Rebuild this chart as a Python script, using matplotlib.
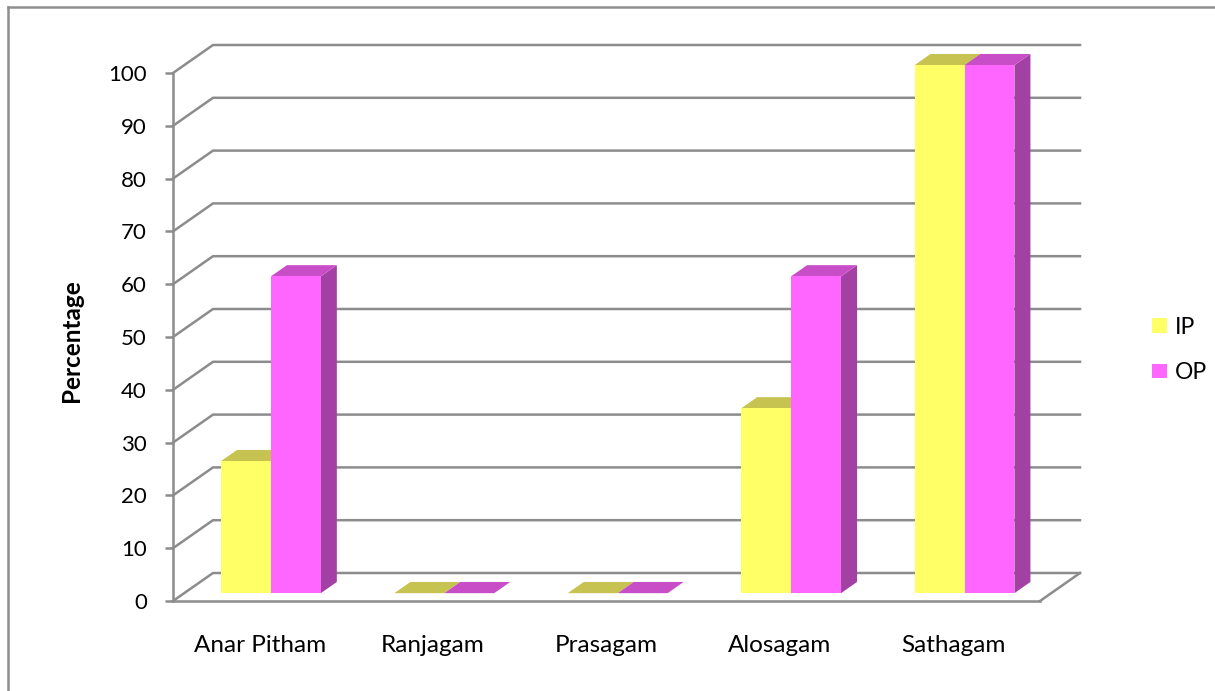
import matplotlib
matplotlib.use('Agg')
import matplotlib.pyplot as plt
from matplotlib.patches import Polygon, Patch
from matplotlib.lines import Line2D

# ---- data ----
categories = ['Anar Pitham', 'Ranjagam', 'Prasagam', 'Alosagam', 'Sathagam']
ip_values = [25, 0, 0, 35, 100]
op_values = [60, 0, 0, 60, 100]
series_names = ['IP', 'OP']

# ---- style ----
plt.rcParams.update({'font.family': ['Lato', 'DejaVu Sans'], 'font.size': 16})
GRID = '#8c8c8c'
GRID_LW = 1.8
COLORS = {
    'IP': {'front': '#ffff66', 'top': '#c6c350', 'side': '#b3b045'},
    'OP': {'front': '#ff66ff', 'top': '#c84ec8', 'side': '#a340a3'},
}

W, H, DPI = 1215, 691, 100
fig = plt.figure(figsize=(W / DPI, H / DPI), dpi=DPI)

# front plane of the 3-D box, in pixels
x0_px, x1_px = 173, 1040
y0_px, y1_px = 601, 73
ax = fig.add_axes([x0_px / W, 1 - y0_px / H, (x1_px - x0_px) / W, (y0_px - y1_px) / H])
n = len(categories)
ax.set_xlim(0, n)
ax.set_ylim(0, 100)

# oblique depth offset (px) converted to data units
DEPTH_PX = (40, 28)
DX = DEPTH_PX[0] / ((x1_px - x0_px) / n)
DY = DEPTH_PX[1] / ((y0_px - y1_px) / 100)


def proj(x, v, d):
    return (x + d * DX, v + d * DY)


# spines / ticks act as the front y-axis and front floor edge
for s in ['top', 'right']:
    ax.spines[s].set_visible(False)
for s in ['left', 'bottom']:
    ax.spines[s].set_color(GRID)
    ax.spines[s].set_linewidth(GRID_LW)
ax.set_yticks(range(0, 101, 10))
ax.tick_params(axis='y', direction='out', length=5.8, width=GRID_LW, color=GRID,
               pad=13, labelsize=16)
ax.set_xticks([i + 0.5 for i in range(n)])
ax.set_xticklabels(categories)
ax.tick_params(axis='x', length=0, pad=24.5, labelsize=17.5)
ax.patch.set_visible(False)

# back wall gridlines + diagonals on the side wall
for v in range(0, 101, 10):
    pts = [proj(0, v, 0), proj(0, v, 1), proj(n, v, 1)]
    ax.plot(*zip(*pts), color=GRID, lw=GRID_LW, clip_on=False, zorder=1,
            solid_joinstyle='miter')
# right edge of the floor
ax.plot(*zip(proj(n, 0, 0), proj(n, 0, 1)), color=GRID, lw=GRID_LW, clip_on=False, zorder=1)

# bars sit in the middle of the depth
D0, D1 = 0.28, 0.68
BW = 0.288


def bar(x, w, v, c, z):
    side = [proj(x + w, 0, D0), proj(x + w, 0, D1), proj(x + w, v, D1), proj(x + w, v, D0)]
    top = [proj(x, v, D0), proj(x + w, v, D0), proj(x + w, v, D1), proj(x, v, D1)]
    front = [proj(x, 0, D0), proj(x + w, 0, D0), proj(x + w, v, D0), proj(x, v, D0)]
    for pts, col in [(side, c['side']), (top, c['top']), (front, c['front'])]:
        ax.add_patch(Polygon(pts, closed=True, facecolor=col, edgecolor='none',
                             clip_on=False, zorder=z))


for i in range(n):
    bar(i + 0.5 - BW, BW, ip_values[i], COLORS['IP'], 3 + 2 * i)
    bar(i + 0.5, BW, op_values[i], COLORS['OP'], 4 + 2 * i)

ax.set_ylabel('Percentage', fontweight='bold', fontsize=17.5)
ax.yaxis.set_label_coords(-0.104, 0.494)

handles = [Patch(facecolor=COLORS[s]['front'], edgecolor='none') for s in series_names]
fig.legend(handles, series_names, loc='center left',
           bbox_to_anchor=(1141 / W, 1 - 350 / H), frameon=False, borderpad=0,
           handlelength=0.62, handleheight=0.62, handletextpad=0.35,
           labelspacing=1.05, fontsize=16.5)

# chart area border (left and top edges)
fig.add_artist(Line2D([8 / W, 8 / W], [0, 1 - 7 / H], color='#8e8e8e', lw=1.8))
fig.add_artist(Line2D([8 / W, 1], [1 - 7 / H, 1 - 7 / H], color='#8e8e8e', lw=1.8))

fig.savefig('out.png', dpi=DPI)
